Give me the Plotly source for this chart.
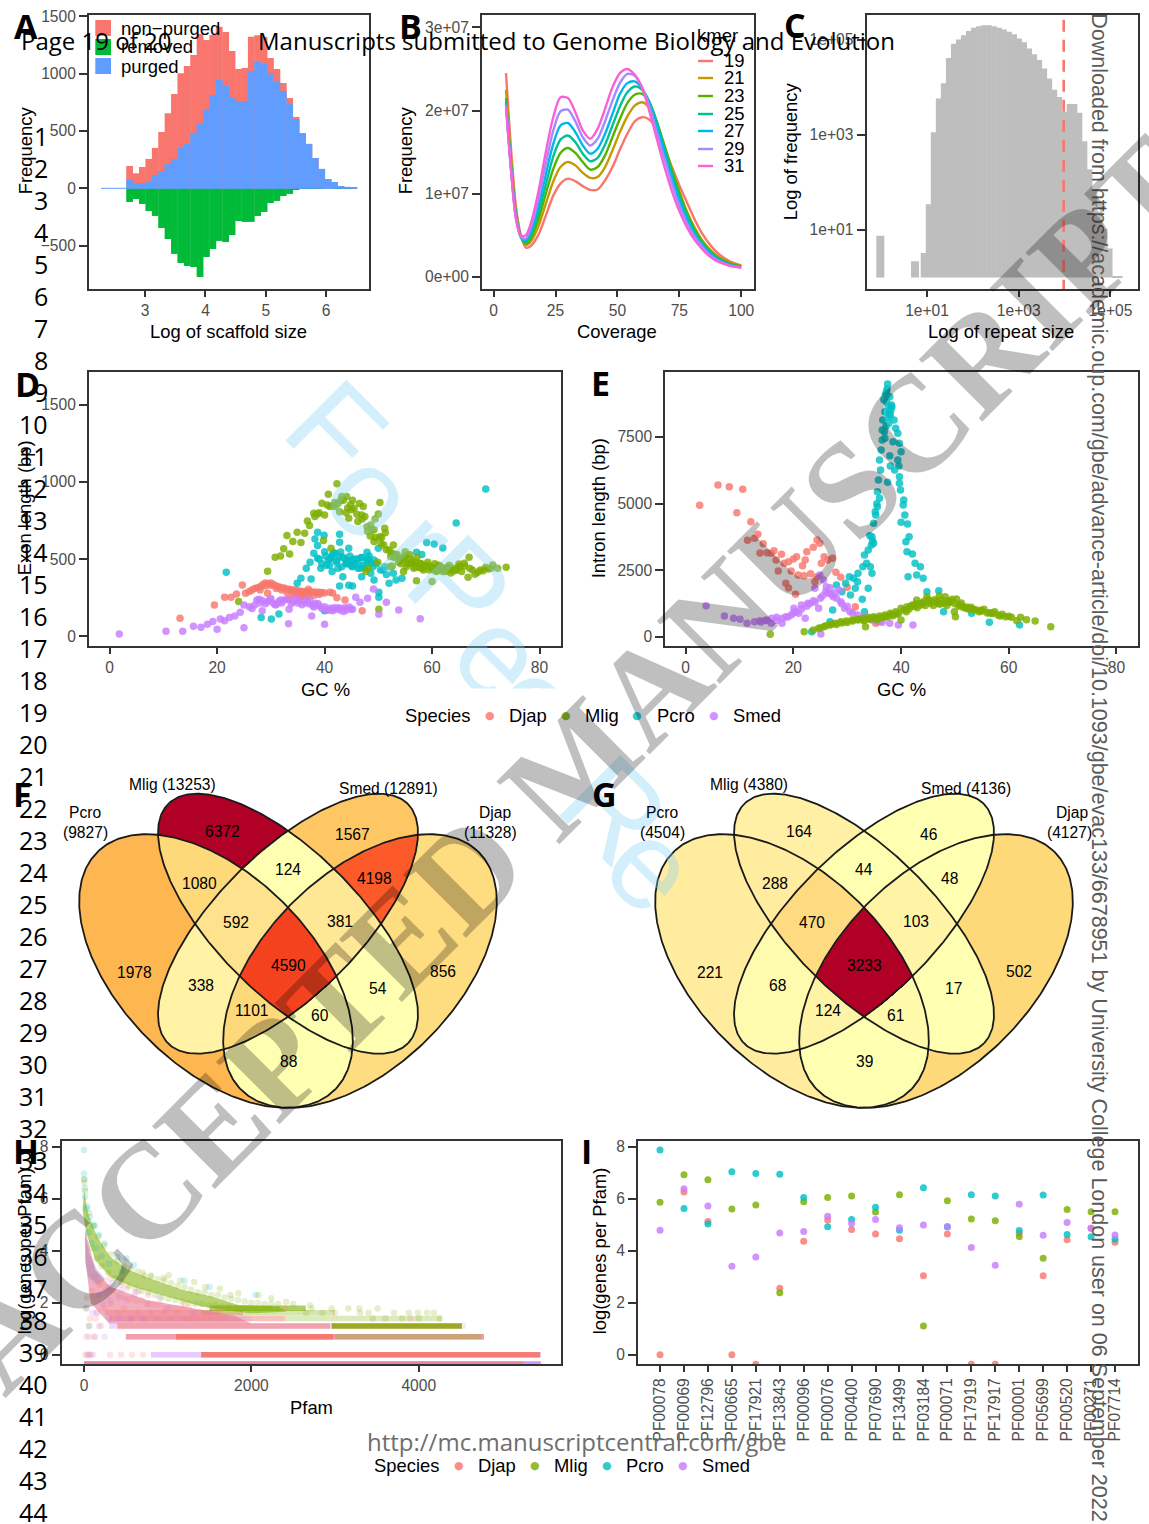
import numpy as np
import plotly.graph_objects as go

W, H = 1149, 1524
SANS = "Liberation Sans"
PAGE = "Open Sans"
RED, GRN, BLU, PUR = "#F8766D", "#7CAE00", "#00BFC4", "#C77CFF"

# ---------- A: scaffold histogram
scaf_x0, scaf_dx = 2.743, 0.1061
nonpurged = [195,131,186,256,352,491,654,822,1003,1066,1162,1345,1293,1337,1409,1363,1197,1040,1050,1322,1334,1320,1136,1040,918,787,622,482,387,264,169,81,55,20,12,3]
purged = [73,41,46,58,116,148,212,256,352,386,479,567,689,811,944,895,793,761,761,1023,1101,1084,1005,936,849,735,604,474,387,264,169,81,55,20,12,3]
removed = [-119,-93,-137,-198,-241,-346,-442,-572,-651,-677,-686,-773,-599,-529,-459,-468,-407,-285,-293,-293,-241,-206,-128,-110,-67,-49,-15,-5,-6,-5,-5,0,-4,-4,-4,0]
scaf_line_x = [2.27, 6.52]
scaf_line_y = [0, 0]

# ---------- B: k-mer curves (units 1e6)
kmer_x = [5,7,9,11,13,15,18,21,24,27,30,33,36,39,42,45,48,51,54,57,60,63,66,69,72,75,78,81,84,87,90,95,100]
kmer_names = ["19","21","23","25","27","29","31"]
kmer_colors = ["#F8766D","#C49A00","#53B400","#00C094","#00B6EB","#A58AFF","#FB61D7"]
k19 = [24.5,15.5,8.5,5.0,3.5,3.7,5.0,7.3,9.7,11.2,11.8,11.5,10.9,10.45,10.5,11.6,13.2,15.3,17.2,18.7,19.2,18.9,17.6,15.5,13.2,11.0,9.0,7.0,5.3,4.0,3.0,1.9,1.35]
k21 = [22.5,14.3,7.9,4.8,3.8,4.2,6.0,8.7,11.4,13.2,13.8,13.4,12.5,11.9,12.0,13.2,15.2,17.4,19.3,20.6,21.0,20.3,18.4,15.8,13.0,10.3,7.9,6.0,4.5,3.4,2.6,1.75,1.3]
k23 = [21.5,13.7,7.6,4.8,4.0,4.6,6.8,9.9,12.9,14.9,15.5,14.9,13.8,12.9,13.2,14.6,16.8,19.0,20.9,21.9,22.0,20.9,18.6,15.7,12.8,10.1,7.7,5.8,4.3,3.2,2.4,1.65,1.25]
k25 = [21.0,13.3,7.4,4.8,4.2,5.0,7.6,11.0,14.4,16.5,17.0,16.2,14.8,13.9,14.3,15.9,18.2,20.5,22.2,22.9,22.5,21.0,18.5,15.5,12.4,9.7,7.4,5.5,4.1,3.1,2.3,1.55,1.2]
k27 = [20.8,13.1,7.2,4.8,4.4,5.4,8.4,12.2,15.9,18.2,18.5,17.4,15.8,14.8,15.4,17.2,19.6,22.0,23.3,23.5,22.6,20.7,18.0,14.9,11.9,9.2,7.0,5.2,3.9,2.9,2.2,1.45,1.15]
k29 = [20.7,13.0,7.1,4.8,4.6,5.9,9.2,13.5,17.5,19.9,20.1,18.7,16.8,15.8,16.6,18.7,21.2,23.3,24.4,24.2,22.8,20.4,17.3,14.2,11.2,8.6,6.5,4.9,3.7,2.7,2.05,1.4,1.1]
k31 = [20.5,12.9,7.0,4.9,5.0,6.4,10.1,14.9,19.1,21.6,21.5,19.8,17.6,16.6,17.8,20.2,22.8,24.5,25.0,24.3,22.7,19.8,16.5,13.2,10.3,7.9,6.0,4.5,3.4,2.5,1.9,1.35,1.08]
kmer_y = [k19,k21,k23,k25,k27,k29,k31]

# ---------- C: repeat histogram (log10 size, log10 frequency)
rep_x0, rep_dx = 0.924, 0.1097
rep_freq = [.515,1.54,3.06,3.77,4.09,4.62,4.92,5.01,5.10,5.19,5.26,5.29,5.31,5.31,5.29,5.26,5.22,5.175,5.12,5.03,4.95,4.82,4.70,4.58,4.40,4.19,3.95,3.80,3.49,3.65,3.65,3.47,2.87,2.28,1.81,1.39,1.03,.61,.02,.02]
rep_low_x = [-0.019, 0.738]
rep_low_y = [0.88, 0.34]
rep_cut = 3.98

# ---------- D: exon length vs GC
d_djap_x = [13.1,19.5,21.4,22.6,23.6,24.7,25.3,26,26.5,27,27.5,28,28.5,29,29.5,30,30.5,31,31.5,32,32.5,33,33.5,34,34.5,35,35.5,36,36.5,37,37.5,38,38.5,39,39.5,40,41,41.5,29.4,33.4,42.3,43.8,47,34,35,36,37,33,34.5,35.5,36.5,38,28,29,30,31,32,35,37,39]
d_djap_y = [117,203,253,253,274,332,278,290,300,310,315,320,335,345,340,345,335,325,320,315,312,305,305,300,300,295,292,290,290,290,288,285,285,285,283,280,285,280,278,240,250,235,166,270,265,262,268,285,280,255,250,265,300,325,330,310,300,270,305,270]
d_mlig_x = [24,29.4,30.8,31.8,32.4,33.5,33,34.1,34.9,35.6,36.3,36.8,37.2,38,38.7,39.5,40,40.7,41,41.9,42.3,42.8,43.2,44.1,44.5,44.8,45.5,46.2,46.9,47.2,47.5,47.9,48.6,49.2,50,50.3,49.2,50.3,51.3,51,52,52.8,52.3,53.3,54.4,55,55.7,56.8,58.1,59.5,60.8,62.2,63.6,65,66,66.9,66.7,68,69,70,71.3,72.2,73.8,57.1,60,50.1,49.9,54.7,38.2,39,40.5,41.5,42.5,43.5,44,45,46,47,48,48.5,49.5,50.5,51.5,52.5,53,53.5,54,54.5,55,55.5,56,56.5,57,57.5,58,58.5,59,60,60.5,61,61.5,62,62.5,63,63.5,64,64.5,65,65.5,66,67,67.5,68.5,69.5,70.5,71,52.2,52.6,53.2,53.8,54.2,54.8,55.2,55.8,56.2,56.6,57.2,57.8,58.4,59.2,59.8,60.4,61.2,62,62.8,63.2,64.2,65.2,47.7,48.2,48.8,49.4,50.6,51.2,39.8,41.2,42,43,44.3,45.2,46.5]
d_mlig_y = [225,421,512,520,566,533,652,613,673,607,667,747,717,797,792,861,786,920,840,866,987,807,905,905,764,851,829,743,786,840,775,710,721,689,792,866,613,645,671,591,559,591,516,516,494,548,473,451,440,430,419,430,430,468,473,512,382,402,430,447,462,440,447,360,354,175,479,419,775,800,850,845,860,880,800,820,790,760,680,650,640,600,560,540,510,530,490,510,520,470,500,470,480,445,470,450,460,440,470,425,455,440,420,445,410,440,430,450,420,455,440,430,415,425,435,440,450,455,530,480,470,500,450,530,480,440,510,470,430,480,450,430,460,420,445,460,425,450,420,440,690,760,640,700,620,570,840,880,830,880,860,770,820]
d_pcro_x = [21.7,28.2,30.1,31.5,40,70,64.5,59,60.4,62,57.1,58.1,50.1,50.1,42.8,38.7,39.9,38.2,38.7,42.8,44.5,47.9,50,34.9,35.6,36.6,37.5,37.3,38,38.7,39.3,40,40.7,41.4,42,42.8,43.4,42.8,44.5,45.2,44.1,45.2,46.2,46.9,47.9,48.6,49.2,49.2,50.9,52,52.8,53.3,54.4,39,39.5,40.2,40.9,41.2,41.7,42.2,42.5,43,43.5,44,44.7,45,45.7,46,46.6,47,47.3,48,48.3,49,49.6,50.4,51.2,51.5,40.3,41,41.5,42.3,43.2,43.8,44.3,45,45.5,46.3,46.8,47.5,48.1,48.7]
d_pcro_y = [415,121,112,145,166,954,734,607,598,572,544,529,285,253,661,674,654,630,587,609,570,544,570,343,376,440,371,479,538,505,440,548,494,419,538,516,386,326,330,326,484,451,440,386,473,408,365,494,430,343,408,365,376,500,470,520,460,510,540,480,440,545,510,470,520,490,470,500,440,510,460,490,520,450,470,430,450,400,460,500,530,490,450,500,470,455,500,470,510,440,500,475]
d_smed_x = [1.8,10.5,13.6,15.6,17,18.2,19.2,20,20.6,21.4,22.3,23.3,24.3,25,25,26,27,27.4,28.4,28.4,29.4,30.5,31.5,32.5,33.4,33.3,34.2,35.2,36.3,37.3,37.6,38.3,39,40,40,41,42,43.1,44.1,45.2,45.8,46.6,48,49.1,50.1,51.5,53.8,57.8,26.5,27.8,29,30,31,32,33,34.7,35.8,37,38,39.5,40.5,41.5,42.5,43.5,44.6,45,28,29.8,30.8,31.8,33.8,35,36.7,37.8,38.8,40.8,41.8,42.8,43.8]
d_smed_y = [15,32,32,65,58,78,95,45,112,101,121,132,155,56,203,192,203,235,231,166,225,214,225,235,175,82,225,231,218,231,132,214,196,78,192,181,175,181,171,175,253,220,246,307,142,220,171,114,180,240,210,245,205,215,240,245,205,210,190,180,170,165,185,160,190,175,215,235,205,235,210,215,235,200,210,170,185,170,185]

# ---------- E: intron length vs GC
e_djap_x = [2.6,6,8.1,10.6,9.5,12.1,11.5,12.8,13.4,14.4,13.8,15.1,15.9,16.4,16.8,17.8,18.3,19.1,20,20.6,17.2,19.6,20.9,22,23.2,21.7,22.2,22.5,23.7,24.4,24.9,25.2,25.7,26.4,27.3,27.9,28.8,24,18.6,19.1,20.4,24.4,30,31.5,35.3,36]
e_djap_y = [4937,5700,5637,5537,4662,4325,3625,3700,3850,3500,3150,3162,3137,3237,2887,3100,2762,2825,2925,3012,2475,2475,2325,2300,2375,2675,2887,3200,3362,3637,3512,2762,3012,2887,2950,2425,2237,2075,2012,1837,1600,2262,1862,1137,512,575]
e_mlig_x = [15.7,22,23.7,24.7,25.7,26.8,27.8,28.8,29.8,30.9,31.9,32.9,33.4,33.9,34.9,36,37,38,39,40,40,41.1,42.1,42.9,43.8,44.8,45.4,46.5,47.1,47.9,48.2,49.2,50.3,50.1,49.9,51,52,53,54,55.4,56.4,57.4,58.4,59.4,60.5,61.5,62.2,63.3,64.9,67.8,25,26,27,28,29,30,31,32,33,34,35,35.5,36.5,37.5,38.5,39.5,40.5,41,41.5,42.5,43,44,44.5,45,45.5,46,46.8,47.5,48.5,49,49.5,50,50.7,51.5,52.5,53.5,54.5,55,56,57,58,33.2,34.2,35.2,36.2,37.2,38.2,39.2,41.8,42.8,43.6,44.2,46.2,47.2,48.8,51.2,52.2,53.2,54.8,56.8,58.8,60]
e_mlig_y = [100,200,262,325,387,450,512,575,600,637,662,700,387,737,762,787,825,887,950,1075,637,1137,1200,1387,1262,1512,1262,1325,1537,1262,1512,1325,1425,762,950,1200,1075,1112,1012,1037,912,950,787,762,737,612,737,650,600,387,340,420,480,470,530,540,600,640,620,680,700,650,720,760,800,880,1000,950,1050,1150,1100,1250,1180,1400,1350,1180,1280,1400,1180,1300,1420,1250,1150,1120,1050,1030,950,980,900,880,830,640,680,690,740,770,840,860,1150,1250,1200,1330,1400,1230,1360,1280,1130,1050,1000,900,850,780]
e_pcro_x = [23.4,26.8,27.3,28,29,29.7,30.4,30.6,31.2,31.5,32,31.9,32.8,33.2,33.9,32.9,33.6,34.3,34.6,33.2,33.9,34.9,34.6,34.9,35.3,35.6,36,35.6,35.8,36.2,36,36.3,36.5,36.5,36.6,37,37.3,37.3,37.5,37.9,37.7,38,38.3,38.7,37.7,39,39.4,37,38.5,39.7,40,37.9,39.4,39.6,38,38.8,37.5,39.7,39.7,39.9,40.5,40.4,40.7,40,41.2,41.5,40.9,41.1,42.1,42.6,43.6,42.9,41.3,44.1,44.8,47,47.9,53.1,56.4,62,36.8,37.1,37.4,37.8,38.2,37.2,36.9,37.6,38.1,35.2,35.5,34.7,34.5,34.2]
e_pcro_y = [200,575,1012,1950,1700,2012,2262,1575,2200,1825,2387,2075,1412,950,1825,2637,2762,2637,2387,3075,3262,3512,3762,4262,4575,4887,5200,5450,5887,6262,6637,7012,7387,7762,8137,8450,8825,9200,9487,9012,8637,8325,8637,8137,8012,7825,7637,7450,7325,7262,6950,6800,6637,6412,6412,6262,5800,6012,5762,5512,5137,4950,4575,4300,4237,3762,3575,3200,3112,2762,2637,2325,2262,2200,1700,1737,950,887,550,450,8900,9100,9300,8400,8700,7900,7700,8250,8500,4700,5000,3600,3450,3800]
e_smed_x = [3.8,7.2,8.9,10.1,11.4,12.8,13.8,14.9,15.9,16.9,17.9,18.6,19.6,20.1,21,21.5,22.2,22.7,23.7,24.7,24,24.9,25.6,26.1,25.4,26.4,27.4,28.5,28.8,29.5,30.5,31.9,33.2,34.6,25.1,37.9,39.5,42.2,14,15,16,17,18,19,20,20.5,21.5,22.5,23,24,25,26,26.8,27,27.7,28,29,30,31,35.5,36.5]
e_smed_y = [1175,787,700,662,512,575,612,637,512,737,512,762,825,1075,887,1200,700,1262,1362,1075,1825,2325,2137,1887,1537,1637,1512,1762,1325,1075,950,825,762,637,112,512,450,450,560,620,700,620,700,750,900,950,1050,1150,1250,1300,1450,1700,1850,1600,1650,1450,1250,1150,900,600,550]

# ---------- F, G: Venn regions, ordered by membership code (Pcro=1, Mlig=2, Smed=4, Djap=8)
venn_codes = list(range(1, 16))
f_counts = [1978,6372,1080,1567,338,124,592,856,88,54,60,4198,1101,381,4590]
g_counts = [221,164,288,46,68,44,470,502,39,17,61,48,124,103,3233]
f_colors = ["#FEB650","#B10026","#FED97A","#FEC763","#FFF2A5","#FFFFB2","#FEE28E","#FEDC80","#FFFFB2","#FFFFB2","#FFFFB2","#FD5A2A","#FED97A","#FEE795","#F4421F"]
g_colors = ["#FFEC9F","#FFF0A6","#FFEC9F","#FFFFB2","#FFFBAE","#FFFFB2","#FEDB80","#FED97A","#FFFFB2","#FFFFB2","#FFF9AC","#FFFFB2","#FFF3A6","#FFF3A6","#B10026"]
label_px_x = [134,222.6,199,352.8,201,288,235.8,443,288,377.7,319.8,374,252.3,339.6,288]
label_px_y = [972.7,831.7,884,834.7,986,870,922.7,971.7,1061.7,989,1015.7,878.7,1010.7,921.7,965.7]
f_titles = [("Pcro",85.4,812.7),("(9827)",85.4,833.7),("Mlig (13253)",172.3,784.7),("Smed (12891)",388.7,789.3),("Djap",495,812.7),("(11328)",490.3,833.7)]
g_titles = [("Pcro",662,812.7),("(4504)",662,833.7),("Mlig (4380)",748.5,784.7),("Smed (4136)",965.5,789.3),("Djap",1072,812.7),("(4127)",1069,833.7)]

# ---------- H: genes per Pfam, ranked
h_rows = [  # species colour, level, from, to, alpha
    (PUR,-0.36,0,5460,.8),(RED,-0.36,0,5250,.55),
    (PUR,0,800,5460,.4),(RED,0,1400,5450,.92),
    (PUR,0.69,500,4780,.35),(RED,0.69,500,4780,.55),(RED,0.69,1100,2980,.95),(GRN,0.69,3000,4750,.3),
    (PUR,1.10,300,3000,.3),(RED,1.10,400,2940,.55),(GRN,1.10,2960,4516,.9),(RED,1.10,2960,4560,.18),
    (RED,1.39,300,2400,.45),(PUR,1.39,300,2000,.15),(GRN,1.39,2400,4276,.25),
    (RED,1.61,250,1900,.4),(GRN,1.61,1400,3000,.3),
    (GRN,1.79,1500,2650,.6),
]
h_mlig_cloud_x = [0,48,157,311,530,836,1187,1537,1844,2326,2414,1975,1406,924,574,311,135,26,-18]
h_mlig_cloud_y = [6.33,5.44,4.54,3.77,3.26,2.87,2.49,2.23,1.91,1.85,1.65,1.59,1.85,2.3,2.62,3.0,3.64,4.67,5.56]
h_djap_cloud_x = [13,135,311,749,1187,1800,2000,300,80,20]
h_djap_cloud_y = [4.8,3.26,2.62,2.1,1.85,1.5,1.2,1.2,2.0,3.5]
h_smed_cloud_x = [10,60,150,260,150,50,12]
h_smed_cloud_y = [4.7,3.9,3.3,2.9,2.7,3.0,3.6]
h_pcro_x = [0,0,5,10,13,30,70,114,180,245,398,508,595,1200,1500,2050,40,130,55,90,150,210,300,450]
h_pcro_y = [7.87,6.97,6.75,6.4,6.07,5.6,5.3,5.0,4.6,4.28,3.77,3.7,3.45,2.85,2.6,2.3,5.7,4.95,4.7,4.3,4.1,3.8,3.5,3.2]
h_mlig_x = [0,3,12,1012,1318,1625,1844,2085,2238,2414,2720,2960,3158,3290,3509,2655,2850,3400,3706,3881,3990,4100,4180,3300,2500,2700,1150,1450,1750,700,800,950,20,60,4250,4000,3800,3600,3450,
            60,110,170,240,320,400,480,560,640,720,800,880,960,1040,1120,1200,1280,1360,1440,1520,1600,1680,1760,1840,1920,2000,2080,2160,2240,2320,
            90,150,210,290,370,450,530,610,690,770,850,930,1010,1090,1170,1250,1330,1410,1490,1570,1650,1730,1810,1890,1970,2050,2130,2210]
h_mlig_y = [6.75,6.6,6.3,3.06,2.8,2.55,2.36,2.3,2.17,2.04,1.78,1.78,1.78,1.78,1.78,1.61,1.61,1.61,1.61,1.61,1.61,1.61,1.61,1.61,1.95,1.9,2.85,2.6,2.3,3.15,3.05,2.95,1.79,1.1,1.39,1.39,1.39,1.39,1.39,
            5.45,4.95,4.55,4.2,3.85,3.6,3.4,3.3,3.2,3.05,3.0,2.9,2.85,2.75,2.65,2.6,2.5,2.4,2.4,2.3,2.3,2.2,2.15,2.1,2.05,2.0,2.0,1.95,1.95,1.95,
            4.1,3.7,3.4,3.15,2.95,2.8,2.65,2.55,2.45,2.4,2.3,2.2,2.15,2.1,2.05,2.0,1.95,1.95,1.9,1.9,1.85,1.85,1.79,1.79,1.79,1.79,1.79,1.79]
h_smed_x = [26,135,245,35,70,110,60,180,300,420,560,700,35,100,150,230,310,420,600,900,300,450,650,180,260,340,500,760,1000,1300,1500]
h_smed_y = [.69,.69,.69,0,0,0,1.1,1.1,1.39,1.39,1.39,1.39,1.79,1.61,1.61,1.95,2.08,2.2,2.3,2.2,2.6,2.5,2.45,2.3,2.45,2.75,2.1,1.95,1.79,1.61,1.61]
h_djap_x = [15,50,80,311,442,574,705,60,120,200,70,140,35,90,180,300,450,520,620,770,1200,1600,2400,3000,3900,
            130,200,270,340,410,480,550,620,690,760,830,900,970,1040,1110,1180,1250,1320,1390,1460,1530,1600,
            160,240,320,400,480,560,640,720,800,880,960,1040,1120,1200,1280,1360,1440,1520,1600,1680]
h_djap_y = [0,0,0,0,0,0,0,.69,.69,1.1,1.39,1.39,2.2,2.45,2.7,2.9,2.7,2.55,2.4,2.3,1.95,1.79,1.79,1.61,1.39,
            3.0,2.75,2.6,2.45,2.3,2.2,2.15,2.08,2.08,1.95,1.95,1.95,1.79,1.79,1.79,1.79,1.79,1.61,1.61,1.61,1.61,1.61,
            1.61,1.79,1.95,1.61,1.79,1.39,1.61,1.39,1.61,1.39,1.61,1.39,1.61,1.39,1.39,1.39,1.39,1.39,1.39,1.39]

# ---------- I: top Pfams
pfam_labels = ["PF00078","PF00069","PF12796","PF00665","PF17921","PF13843","PF00096","PF00076","PF00400","PF07690","PF13499","PF03184","PF00071","PF17919","PF17917","PF00001","PF05699","PF00520","PF00271","PF07714"]
i_djap = [0,6.26,5.12,0,-.37,2.56,4.36,5.18,4.81,4.64,4.46,3.04,4.64,-.37,-.37,4.67,3.04,4.42,4.86,4.32]
i_mlig = [5.86,6.92,6.73,5.6,5.76,2.38,5.88,6.05,6.1,5.49,6.15,1.10,5.92,5.22,5.15,4.54,3.71,5.58,5.5,5.5]
i_pcro = [7.87,5.62,5.03,7.04,6.97,6.94,6.05,4.92,5.2,5.67,4.79,6.42,4.92,6.15,6.1,4.78,6.14,4.62,4.54,4.44]
i_smed = [4.79,6.38,5.72,3.4,3.76,4.68,4.74,5.32,5.05,5.2,4.88,4.99,4.92,4.12,3.44,5.79,4.59,5.08,4.86,4.6]

species = ["Djap", "Mlig", "Pcro", "Smed"]
sp_colors = [RED, GRN, BLU, PUR]

fig = go.Figure()
annos, shapes = [], []

def ann(text, px, py, size, color="#000000", family=SANS, xanchor="center", angle=0, bold=False):
    nudge = {"left": -2, "right": 2, "center": 0}[xanchor]
    annos.append(dict(text=f"<b>{text}</b>" if bold else text, x=(px + nudge) / W, y=1 - (py - 0.7) / H, xref="paper", yref="paper",
                      xanchor=xanchor, yanchor="middle", showarrow=False, textangle=angle,
                      font=dict(size=size, color=color, family=family)))

# pale journal watermark goes first so that later text sits on top of it
for t, lx, ly in [("F",336,430),("o",372,495),("r",419,545),("P",460,587),("e",501,655),("e",538,705),("R",615,810),("e",653,867)]:
    ann(t, lx, ly, 125, color="rgba(132,209,246,0.35)", angle=45)
annos.append(dict(text="&nbsp;", x=515 / W, y=1 - 718 / H, xref="paper", yref="paper", xanchor="center", yanchor="middle",
                  showarrow=False, width=170, height=56, bgcolor="white", font=dict(size=10)))

def axes(n, l, r, t, b, xr, yr, xtv, xtt, ytv, ytt, xangle=0):
    common = dict(showgrid=False, zeroline=False, showline=True, mirror=True, linecolor="#333333", linewidth=2,
                  ticks="outside", tickwidth=2, tickcolor="#333333", fixedrange=True,
                  tickfont=dict(size=15.6, color="#4D4D4D", family=SANS), tickmode="array")
    fig.layout[f"xaxis{n}"] = dict(domain=[l / W, r / W], range=xr, anchor=f"y{n}", tickvals=xtv, ticktext=xtt, tickangle=xangle, ticklen=6, **common)
    fig.layout[f"yaxis{n}"] = dict(domain=[1 - b / H, 1 - t / H], range=yr, anchor=f"x{n}", tickvals=ytv, ticktext=ytt, ticklen=8, **common)

# A
axes(1, 89, 369, 15, 289, [2.07, 6.71], [-878, 1511], [3,4,5,6], ["3","4","5","6"], [-500,0,500,1000,1500], ["\u2212500","0","500","1000","1500"])
for vals, c, nm in [(nonpurged, "#F8766D", "non-purged"), (purged, "#619CFF", "purged"), (removed, "#00BA38", "removed")]:
    fig.add_trace(go.Bar(x0=scaf_x0, dx=scaf_dx, y=vals, width=scaf_dx * 1.06, marker=dict(color=c, line=dict(width=0)), name=nm, xaxis="x1", yaxis="y1", showlegend=False))
fig.add_trace(go.Scatter(x=scaf_line_x, y=scaf_line_y, mode="lines", line=dict(color="#619CFF", width=1), xaxis="x1", yaxis="y1", showlegend=False))
for i, (c, t, ty, y0, y1) in enumerate([("#F8766D", "non\u2212purged", 29, 20, 36), ("#00BA38", "removed", 47.5, 39, 55), ("#619CFF", "purged", 67, 58, 74)]):
    shapes.append(dict(type="rect", xref="paper", yref="paper", x0=95.3/W, x1=111/W, y0=1-y1/H, y1=1-y0/H, fillcolor=c, line=dict(width=0)))
    ann(t, 121, ty, 18.5, xanchor="left")
ann("Log of scaffold size", 229, 332, 18.4)
ann("Frequency", 25, 151, 18.4, angle=-90)

# B
axes(2, 482, 753.6, 15, 289, [-4.7, 105], [-1.48, 31.5], [0,25,50,75,100], ["0","25","50","75","100"], [0,10,20,30], ["0e+00","1e+07","2e+07","3e+07"])
for name, c, ys in zip(kmer_names, kmer_colors, kmer_y):
    fig.add_trace(go.Scatter(x=kmer_x, y=ys, mode="lines", line=dict(color=c, width=2.4, shape="spline", smoothing=0.8), name=name, xaxis="x2", yaxis="y2", showlegend=False))
ann("kmer", 717, 36, 18.5)
for name, c, ly in zip(kmer_names, kmer_colors, [61,78,96,114,131,149,166]):
    shapes.append(dict(type="line", xref="paper", yref="paper", x0=698/W, x1=713/W, y0=1-ly/H, y1=1-ly/H, line=dict(color=c, width=2.4)))
    ann(name, 724, ly, 18.5, xanchor="left")
ann("Coverage", 617, 332, 18.4)
ann("Frequency", 405, 151, 18.4, angle=-90)

# C
axes(3, 866.5, 1138, 15, 289, [-0.32, 5.6], [-0.242, 5.526], [1,3,5], ["1e+01","1e+03","1e+05"], [1,3,5], ["1e+01","1e+03","1e+05"])
fig.add_trace(go.Bar(x0=rep_x0, dx=rep_dx, y=rep_freq, width=rep_dx * 1.12, marker=dict(color="#BEBEBE", line=dict(width=0)), xaxis="x3", yaxis="y3", showlegend=False))
fig.add_trace(go.Bar(x=rep_low_x, y=rep_low_y, width=0.175, marker=dict(color="#BEBEBE", line=dict(width=0)), xaxis="x3", yaxis="y3", showlegend=False))
fig.add_trace(go.Scatter(x=[rep_cut, rep_cut], y=[-0.3, 5.6], mode="lines", line=dict(color="#F8766D", width=2.6, dash="12px,8px"), xaxis="x3", yaxis="y3", showlegend=False))
ann("Log of repeat size", 1001, 332, 18.4)
ann("Log of frequency", 790, 152, 18.4, angle=-90)

# D, E
def pts(xs, ys, c, xa, ya, size=7.5, op=.82):
    fig.add_trace(go.Scatter(x=xs, y=ys, mode="markers", marker=dict(color=c, size=size, opacity=op, line=dict(width=0)), xaxis=xa, yaxis=ya, showlegend=False))

axes(4, 89, 561, 372, 646, [-3.84, 84], [-62.8, 1711], [0,20,40,60,80], ["0","20","40","60","80"], [0,500,1000,1500], ["0","500","1000","1500"])
for xs, ys, c in [(d_djap_x, d_djap_y, RED), (d_pcro_x, d_pcro_y, BLU), (d_mlig_x, d_mlig_y, GRN), (d_smed_x, d_smed_y, PUR)]:
    pts(xs, ys, c, "x4", "y4")
ann("GC %", 325, 690, 18.4)
ann("Exon length (bp)", 24, 509, 18.4, angle=-90)

axes(5, 665.2, 1138, 372, 646, [-3.8, 84], [-337, 9937], [0,20,40,60,80], ["0","20","40","60","80"], [0,2500,5000,7500], ["0","2500","5000","7500"])
for xs, ys, c in [(e_djap_x, e_djap_y, RED), (e_pcro_x, e_pcro_y, BLU), (e_smed_x, e_smed_y, PUR), (e_mlig_x, e_mlig_y, GRN)]:
    pts(xs, ys, c, "x5", "y5")
ann("GC %", 901, 690, 18.4)
ann("Intron length (bp)", 598, 509, 18.4, angle=-90)

# page-wide axes in pixel units, used for the Venn outlines
fig.layout["xaxis10"] = dict(domain=[0, 1], range=[0, W], anchor="y10", visible=False, fixedrange=True)
fig.layout["yaxis10"] = dict(domain=[0, 1], range=[H, 0], anchor="x10", visible=False, fixedrange=True)

def legend_row(py, sp_text_x, species_x, dots):
    ann("Species", species_x, py, 18.4, xanchor="left")
    for nm, c, dx, tx in zip(species, sp_colors, dots, sp_text_x):
        ann(nm, tx, py, 18.4, xanchor="left")
        r, g, b = int(c[1:3], 16), int(c[3:5], 16), int(c[5:7], 16)
        ann("\u25CF", dx, py, 11, color=f"rgba({r},{g},{b},0.82)", family="DejaVu Sans")

legend_row(716, [509, 585, 657, 733], 404.5, [490, 566, 637, 713.6])
legend_row(1466, [478, 554, 626, 702], 374, [459, 535, 607, 683])

# Venn
OUT_A, OUT_B, IN_A, IN_B = 168.0, 96.0, 169.4, 71.4
def venn(cx0, counts, colors, titles):
    ell = [(cx0 - 72, 971, OUT_A, OUT_B, 1), (cx0, 923.7, IN_A, IN_B, 1), (cx0, 923.7, IN_A, IN_B, -1), (cx0 + 72, 971, OUT_A, OUT_B, -1)]
    gx = np.arange(cx0 - 222, cx0 + 222)
    gy = np.arange(785, 1115)
    X, Y = np.meshgrid(gx, gy)
    code = np.zeros(X.shape, dtype=int)
    for bit, (cx, cy, a, b, s) in enumerate(ell):
        u = ((X - cx) + s * (Y - cy)) / np.sqrt(2)
        v = (-(X - cx) * s + (Y - cy)) / np.sqrt(2)
        code += ((u / a) ** 2 + (v / b) ** 2 <= 1).astype(int) << bit
    z = code.astype(float)
    z[code == 0] = np.nan
    n = len(colors)
    scale = []
    for i, c in enumerate(colors):
        scale += [[i / n, c], [(i + 1) / n, c]]
    fig.add_trace(go.Heatmap(x=gx, y=gy, z=z, zmin=0.5, zmax=15.5, colorscale=scale, showscale=False, hoverinfo="skip", xaxis="x10", yaxis="y10"))
    t = np.linspace(0, 2 * np.pi, 361)
    for cx, cy, a, b, s in ell:
        ex = a * np.cos(t)
        ey = b * np.sin(t)
        px = cx + (ex - s * ey) / np.sqrt(2)
        py = cy + (s * ex + ey) / np.sqrt(2)
        fig.add_trace(go.Scatter(x=px, y=py, mode="lines", line=dict(color="#1A1A1A", width=1.8), xaxis="x10", yaxis="y10", showlegend=False, hoverinfo="skip"))
    for cnt, lx, ly in zip(counts, label_px_x, label_px_y):
        ann(str(cnt), lx + cx0 - 288, ly, 15.6)
    for txt, lx, ly in titles:
        ann(txt, lx, ly, 15.6)

venn(288, f_counts, f_colors, f_titles)
venn(864, g_counts, g_colors, g_titles)

# H
axes(6, 61.6, 561, 1140.7, 1364, [-268, 5700], [-0.358, 8.23], [0,2000,4000], ["0","2000","4000"], [0,2,4,6,8], ["0","2","4","6","8"])
for c, lvl, a0, a1, al in h_rows:
    fig.add_trace(go.Scatter(x=[a0, a1], y=[lvl, lvl], mode="lines", opacity=al, line=dict(color=c, width=5.5), xaxis="x6", yaxis="y6", showlegend=False, hoverinfo="skip"))
fig.add_trace(go.Scatter(x=h_djap_cloud_x, y=h_djap_cloud_y, fill="toself", mode="none", fillcolor="rgba(232,125,145,0.62)", xaxis="x6", yaxis="y6", showlegend=False, hoverinfo="skip"))
fig.add_trace(go.Scatter(x=h_mlig_cloud_x, y=h_mlig_cloud_y, fill="toself", mode="none", fillcolor="rgba(124,174,0,0.55)", xaxis="x6", yaxis="y6", showlegend=False, hoverinfo="skip"))
fig.add_trace(go.Scatter(x=h_smed_cloud_x, y=h_smed_cloud_y, fill="toself", mode="none", fillcolor="rgba(120,110,190,0.3)", xaxis="x6", yaxis="y6", showlegend=False, hoverinfo="skip"))
for xs, ys, c in [(h_pcro_x, h_pcro_y, BLU), (h_smed_x, h_smed_y, PUR), (h_djap_x, h_djap_y, RED), (h_mlig_x, h_mlig_y, GRN)]:
    pts(xs, ys, c, "x6", "y6", size=6.5, op=.2)
ann("Pfam", 311, 1408, 18.4)
ann("log(genes per Pfam)", 24, 1252, 18.4, angle=-90)

# I
axes(7, 638, 1138, 1140.7, 1364, [-0.92, 19.96], [-0.358, 8.23], list(range(20)), pfam_labels, [0,2,4,6,8], ["0","2","4","6","8"], xangle=-90)
for ys, c in [(i_djap, RED), (i_mlig, GRN), (i_pcro, BLU), (i_smed, PUR)]:
    fig.add_trace(go.Scatter(x=list(range(20)), y=ys, mode="markers", marker=dict(color=c, size=7, opacity=.82), xaxis="x7", yaxis="y7", showlegend=False))
ann("log(genes per Pfam)", 599, 1252, 18.4, angle=-90)

# panel letters
for t, lx, ly in [("A",26.5,27),("B",410.5,27),("C",795,26),("D",27.5,385),("E",600.7,384),("F",22,795),("G",604,795),("H",26.4,1152),("I",586,1152)]:
    ann(t, lx, ly, 34, family=PAGE, bold=True)

# page furniture
ann("Page 19 of 20", 21, 41, 24, family=PAGE, xanchor="left")
ann("Manuscripts submitted to Genome Biology and Evolution", 258, 41, 24, family=PAGE, xanchor="left")
for n in range(1, 45):
    ann(str(n), 48, 137 + 32 * (n - 1), 25, family=PAGE, xanchor="right")
ann("http://mc.manuscriptcentral.com/gbe", 576, 1442, 24, color="#6E6E6E", family=PAGE)
ann("Downloaded from https://academic.oup.com/gbe/advance-article/doi/10.1093/gbe/evac133/6678951 by University College London user on 06 September 2022",
    1099, 768, 21.5, color="#5A5A5A", angle=90)
ann("ACCEPTED MANUSCRIPT", 575, 765, 136, color="rgba(0,0,0,0.25)", family="Liberation Serif", angle=-45, bold=True)

fig.update_layout(width=W, height=H, margin=dict(l=0, r=0, t=0, b=0, pad=0, autoexpand=False), autosize=False, barmode="overlay",
                  paper_bgcolor="white", plot_bgcolor="rgba(0,0,0,0)", showlegend=False, annotations=annos, shapes=shapes,
                  hovermode=False)
fig.write_html("out.html", post_script="document.body.style.margin='0';", config={"displayModeBar": False})
